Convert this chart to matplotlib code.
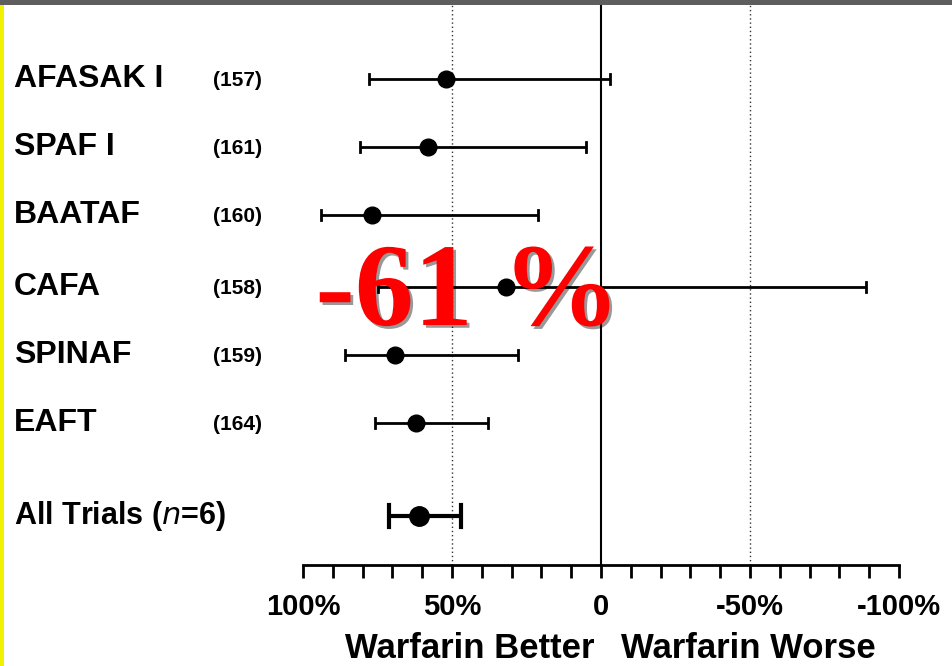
import matplotlib
matplotlib.use('Agg')
from matplotlib import pyplot as plt
import matplotlib.patheffects as pe
from matplotlib.transforms import blended_transform_factory

# datos (reduccion de riesgo, %)
trials = ['AFASAK I', 'SPAF I', 'BAATAF', 'CAFA', 'SPINAF', 'EAFT', 'All Trials ($\\mathit{n}$=6)']
refs = ['(157)', '(161)', '(160)', '(158)', '(159)', '(164)', '']
estimate = [52, 58, 77, 32, 69, 62, 61]
ci_low = [78, 81, 94, 75, 86, 76, 71]
ci_high = [-3, 5, 21, -89, 28, 38, 47]
tick_vals = [100, 50, 0, -50, -100]
tick_labels = ['100%', '50%', '0', '-50%', '-100%']

W, H = 953, 666
fig = plt.figure(figsize=(W / 100, H / 100), dpi=100)
fig.patch.set_facecolor('white')

# posicion vertical de cada fila (pixeles desde arriba)
row_y = [79, 147, 215, 287, 355, 423, 516]

ax = fig.add_axes([303 / W, 1 - 565 / H, (899 - 303) / W, (565 - 5) / H])
ax.set_xlim(100, -100)
ax.set_ylim(565, 5)
ax.patch.set_alpha(0)

for s in ['top', 'left', 'right']:
    ax.spines[s].set_visible(False)
ax.spines['bottom'].set_linewidth(2)
ax.set_yticks([])
ax.set_xticks(range(-100, 101, 10), minor=True)
ax.set_xticks(tick_vals)
ax.set_xticklabels(tick_labels, fontfamily='Liberation Sans', fontweight='bold', fontsize=21)
ax.tick_params(axis='x', which='both', direction='out', length=9, width=2, pad=11)

# lineas de referencia
ax.axvline(0, color='black', lw=1.5)
ax.axvline(50, color='#333333', lw=1, ls=(0, (1, 2)))
ax.axvline(-50, color='#333333', lw=1, ls=(0, (1, 2)))

for i in range(len(trials)):
    last = i == len(trials) - 1
    ax.plot([ci_low[i], ci_high[i]], [row_y[i], row_y[i]], color='black',
            lw=3 if last else 2, solid_capstyle='butt')
    cap = 11 if last else 5
    for xv in (ci_low[i], ci_high[i]):
        ax.plot([xv, xv], [row_y[i] - cap, row_y[i] + cap], color='black', lw=3 if last else 2)
    ax.plot(estimate[i], row_y[i], 'o', color='black', ms=14 if last else 12)

tr = blended_transform_factory(fig.transFigure, ax.transData)
for i, name in enumerate(trials):
    ax.text(14 / W, row_y[i], name, transform=tr, ha='left', va='center',
            fontfamily='Liberation Sans', fontweight='bold', fontsize=23 if i < 6 else 22)
    if refs[i]:
        ax.text(213 / W, row_y[i] + 2, refs[i], transform=tr, ha='left', va='center',
                fontfamily='Liberation Sans', fontweight='bold', fontsize=15)

fig.text(470 / W, 1 - 648 / H, 'Warfarin Better', ha='center', va='center',
         fontfamily='Liberation Sans', fontweight='bold', fontsize=25)
fig.text(748 / W, 1 - 648 / H, 'Warfarin Worse', ha='center', va='center',
         fontfamily='Liberation Sans', fontweight='bold', fontsize=25)

# texto grande en rojo
fig.text(468 / W, 1 - 325 / H, '-61 %', ha='center', va='baseline', color='red',
         fontfamily='Liberation Serif', fontweight='bold', fontsize=85,
         path_effects=[pe.withSimplePatchShadow(offset=(2, -2), shadow_rgbFace='black', alpha=0.4)])

# bordes de la diapositiva
fig.add_artist(plt.Rectangle((0, 1 - 5 / H), 1, 5 / H, transform=fig.transFigure,
                             color='#5e5e5e', lw=0))
fig.add_artist(plt.Rectangle((0, 0), 4 / W, 1 - 5 / H, transform=fig.transFigure,
                             color='#f2f200', lw=0))

fig.savefig('out.png', dpi=100)
